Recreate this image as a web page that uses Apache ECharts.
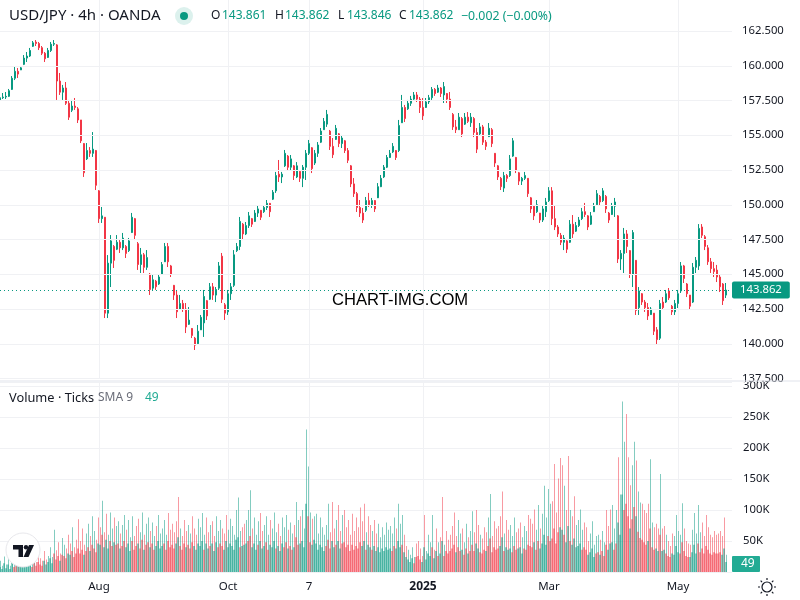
<!DOCTYPE html>
<html>
<head>
<meta charset="UTF-8">
<title>USD/JPY 4h</title>
<script src="https://cdn.jsdelivr.net/npm/echarts@6/dist/echarts.min.js"></script>
<style>
  html, body { margin: 0; padding: 0; background: #fff; }
  #main { width: 800px; height: 600px; }
</style>
</head>
<body>
<div id="main"></div>
<script>
var opens = [
157.5,157.7,157.75,157.8,158.3,159.1,159.6,159.7,160.1,160.55,
160.7,161.4,161.7,161.6,161.3,160.9,160.6,161.1,161.55,161.5,
158.9,158.1,158.4,157.3,156.8,157.1,156.9,156.1,154.4,153.3,
153.9,153.7,153.9,151.0,149.0,149.1,142.2,145.8,147.0,146.8,
147.3,146.9,147.0,146.7,148.0,149.0,147.2,145.7,146.4,145.5,
145.0,144.0,144.5,144.3,145.0,145.9,147.0,145.6,144.2,143.5,
142.5,142.9,142.5,141.4,141.1,140.4,140.0,141.0,141.5,143.1,
143.2,144.1,143.5,144.0,146.3,142.8,142.3,143.6,144.2,146.7,
147.0,148.6,147.9,148.5,149.0,148.8,149.4,149.6,149.5,149.8,
150.1,150.4,151.0,152.2,152.0,152.8,153.5,152.7,152.8,152.0,
152.4,151.9,152.7,153.7,154.1,153.0,153.7,154.5,155.4,155.8,
155.3,154.2,154.7,155.1,154.4,154.6,153.9,152.8,151.5,150.8,
149.8,149.4,149.6,150.3,150.0,150.3,150.5,151.3,152.0,152.7,
153.4,153.8,153.9,153.9,155.9,157.0,156.9,157.3,157.6,157.9,
157.6,157.0,157.0,157.4,157.7,158.3,158.1,158.4,157.9,158.0,
157.6,156.5,155.6,155.4,156.2,155.8,156.3,155.9,156.2,155.2,
155.1,155.6,154.5,154.9,155.4,153.7,152.8,151.9,151.2,152.1,
152.1,153.5,153.4,152.3,151.7,151.9,151.9,150.5,149.9,149.5,
149.4,148.9,149.5,150.3,151.0,149.0,148.4,147.8,147.3,147.4,
147.3,148.6,148.1,148.5,149.0,149.5,149.2,148.6,149.5,150.0,
150.6,150.3,150.6,149.4,149.3,149.9,149.2,146.1,146.5,147.9,
146.7,145.0,146.0,142.6,143.6,143.0,142.6,142.1,142.2,141.0,
140.4,143.0,143.0,143.8,142.7,142.3,142.9,143.8,145.6,144.3,
143.5,143.0,145.5,145.6,148.4,147.7,146.9,145.9,145.4,145.3,
144.8,144.3,143.5];
var closes = [
157.7,157.75,157.8,158.2,159.1,159.6,159.4,159.85,160.55,160.7,
161.1,161.65,161.6,161.3,160.9,160.5,161.1,161.55,161.6,158.9,
158.1,158.4,157.3,156.3,157.1,157.0,156.1,154.6,152.3,153.9,
153.7,154.0,151.4,149.0,149.2,142.2,145.8,147.4,146.0,147.3,
146.9,147.6,146.5,147.4,149.1,147.8,145.7,146.4,145.5,146.2,
143.9,144.6,144.1,144.8,145.7,147.0,145.9,145.0,143.5,142.3,
142.9,142.5,141.2,141.7,140.6,139.9,140.9,141.9,143.4,142.0,
144.1,143.5,143.9,145.6,143.2,142.2,143.6,144.1,146.4,147.0,
148.8,147.9,148.5,149.2,148.6,149.4,149.7,149.1,149.8,150.1,
149.5,150.9,152.1,152.0,152.2,153.7,152.7,153.3,152.1,152.8,
151.9,152.7,153.7,154.4,152.6,153.7,154.3,155.3,156.0,156.5,
154.2,153.6,155.5,154.4,154.8,153.9,153.2,151.5,150.8,149.8,
149.4,148.9,150.3,150.0,150.3,149.7,151.3,151.9,152.7,153.4,
153.7,154.2,153.4,155.7,157.0,156.2,157.3,157.6,157.9,157.6,
157.0,156.4,157.4,157.7,158.3,158.0,158.4,158.0,158.5,157.6,
157.0,155.6,155.4,156.3,155.1,156.3,156.0,156.3,155.2,154.0,
155.6,154.5,154.2,155.5,154.4,153.0,152.0,151.3,152.1,151.9,
153.3,154.6,152.5,151.7,151.9,152.1,150.8,149.7,149.2,150.0,
148.9,149.7,150.2,151.0,149.0,148.4,147.9,147.3,147.6,146.8,
148.6,147.9,148.5,148.9,149.5,149.3,148.4,149.2,149.9,150.8,
150.2,151.0,149.7,148.9,149.9,150.2,146.1,146.5,147.9,147.0,
145.0,148.0,142.4,143.8,143.0,142.6,142.0,142.5,140.9,140.3,
142.9,142.6,143.6,143.3,142.3,142.9,143.6,145.6,144.7,143.6,
142.7,145.5,146.0,148.3,147.8,147.0,145.9,145.4,145.2,144.8,
144.1,143.1,143.862];
var highs = [
157.90,158.04,158.11,158.33,159.26,159.91,159.84,159.98,160.77,160.99,
161.28,161.78,161.85,161.71,161.42,160.99,161.28,161.71,161.85,161.56,
159.48,158.62,158.83,157.54,157.54,157.68,157.03,156.10,154.44,154.44,
154.15,155.23,153.94,151.06,149.84,149.12,146.38,147.82,147.10,147.82,
147.46,147.97,147.10,147.61,149.41,149.05,147.32,146.89,146.53,146.74,
145.09,144.95,144.59,144.95,145.88,147.25,147.25,145.67,144.23,143.87,
143.51,143.15,142.93,142.64,141.13,140.49,141.35,142.07,143.87,143.15,
144.37,144.37,144.08,145.88,146.53,142.93,143.87,144.37,146.74,147.25,
149.12,148.69,148.76,149.48,149.05,149.62,149.98,149.62,149.98,150.34,
150.13,151.06,152.36,153.22,152.36,153.94,153.58,153.58,152.86,153.07,
152.50,152.86,153.94,154.66,154.15,153.94,154.51,155.52,156.24,156.82,
155.38,154.80,155.74,155.16,155.02,154.66,154.08,152.86,151.92,150.92,
150.34,149.77,150.56,150.85,150.49,150.34,151.56,152.14,152.86,153.58,
153.94,154.44,153.94,156.10,157.90,157.18,157.54,157.83,158.11,158.11,
157.75,157.68,157.68,157.90,158.47,158.40,158.62,158.47,158.83,158.04,
158.11,156.60,156.10,156.60,156.31,156.60,156.67,156.60,156.31,155.52,
155.88,155.74,154.66,155.88,155.52,153.72,152.86,152.00,152.36,152.21,
153.58,154.80,153.44,152.36,152.00,152.36,151.92,150.56,149.98,150.34,
149.41,149.98,150.49,151.27,151.27,149.98,148.54,147.97,147.82,147.46,
148.90,149.26,148.76,149.12,149.77,150.13,149.26,149.48,150.13,151.06,
150.70,151.20,150.70,149.48,150.13,150.49,149.26,146.74,148.33,148.18,
146.74,148.18,146.02,144.08,143.65,143.15,142.93,142.64,142.21,141.20,
143.15,143.36,143.87,144.01,142.79,143.15,143.87,145.88,145.67,144.37,
143.51,145.81,146.24,148.61,148.61,147.82,147.10,146.17,145.88,145.67,
144.95,144.37,144.37];
var lows = [
157.25,157.61,157.61,157.75,158.26,158.97,159.12,159.69,160.05,160.27,
160.63,161.35,161.42,161.13,160.77,160.27,160.56,160.99,161.42,157.54,
157.90,157.54,157.18,156.10,156.67,156.82,155.88,154.44,152.00,153.22,
153.44,153.44,151.06,148.69,148.69,141.85,141.85,144.08,145.45,146.74,
146.53,146.74,146.17,146.60,147.97,147.46,145.31,145.09,145.09,145.31,
143.51,143.87,143.87,144.23,144.95,145.88,145.52,144.80,143.15,141.85,
142.43,142.29,140.77,141.35,140.41,139.55,139.91,140.99,140.49,141.71,
143.15,143.15,143.00,143.87,142.93,141.71,142.07,143.15,144.08,146.60,
146.74,147.46,147.82,148.33,148.40,148.76,149.12,148.90,149.41,149.62,
149.12,150.34,150.85,151.64,151.56,152.72,152.50,152.50,151.78,151.92,
151.64,151.27,151.78,153.58,152.28,152.86,153.44,154.44,155.38,155.60,
153.94,153.36,154.66,154.15,154.08,153.72,153.00,151.27,150.56,149.48,
149.12,148.69,149.48,149.84,149.77,149.48,150.56,151.27,151.92,152.64,
153.36,153.72,153.22,153.79,155.88,155.95,156.82,157.11,157.54,157.39,
156.60,156.10,156.96,157.25,157.54,157.83,158.04,157.75,157.32,157.32,
156.82,155.38,155.16,155.38,154.87,155.74,155.88,155.60,154.87,153.72,
155.02,154.30,153.94,154.87,154.15,152.72,151.78,151.06,150.92,151.64,
152.00,153.44,152.28,151.42,151.42,151.78,150.56,149.41,148.90,149.41,
148.69,148.76,149.12,150.20,148.54,148.18,147.68,147.10,146.74,146.53,
147.25,147.61,148.04,148.40,148.90,149.12,148.18,148.54,149.48,149.98,
149.98,150.20,149.41,148.69,149.26,149.12,145.81,145.31,145.09,146.53,
144.73,144.08,142.07,142.07,142.79,142.29,141.71,142.07,140.63,139.91,
140.27,142.43,142.93,143.15,142.07,142.07,142.57,143.65,144.37,143.36,
142.43,142.93,145.09,145.31,147.61,146.74,145.67,145.09,144.80,144.44,
143.72,142.79,143.29];
// volume in thousands of ticks: tallest bar and the body of bars in each 2px slot
var volPeaks = [
18,10,25,12,22,10,28,14,20,16,30,12,24,18,28,20,14,26,16,30,22,18,34,20,26,
40,24,68,35,48,30,55,44,38,60,46,72,40,52,85,50,70,44,62,78,58,90,66,52,88,
72,115,64,94,60,96,70,88,74,82,62,76,92,68,84,56,90,58,74,86,64,96,60,78,88,
66,80,58,74,92,62,70,84,60,95,68,78,64,82,121,70,58,84,66,76,62,90,70,60,86,
72,95,60,88,64,76,82,58,90,66,84,70,62,92,68,86,74,60,100,120,66,72,78,84,100,
132,70,88,60,82,95,66,76,90,60,84,70,96,64,78,58,88,72,92,68,80,62,76,113,84,
90,100,70,230,170,96,86,90,94,62,88,72,60,76,110,64,113,70,84,108,66,92,100,72,84,
60,94,66,88,72,104,82,110,64,90,76,66,84,62,78,56,72,60,80,68,74,62,88,70,110,
78,92,60,42,36,28,40,24,46,50,38,26,92,34,60,48,92,36,70,48,56,121,44,66,52,
60,74,96,58,84,62,70,48,78,56,66,98,64,100,76,60,54,72,64,88,126,58,82,70,74,
90,130,62,84,68,76,58,88,64,70,80,56,74,66,92,86,78,101,68,108,70,94,139,88,134,
110,114,174,96,151,184,172,139,100,187,100,90,122,76,84,101,68,80,72,50,62,82,44,58,60,
52,66,48,100,74,101,108,70,100,185,125,275,210,255,185,140,172,210,180,130,112,110,100,95,110,
182,80,72,78,70,158,70,74,60,50,42,62,58,92,66,60,111,70,50,46,44,68,95,62,108,
64,80,58,92,72,60,56,66,60,62,66,58,88,28];
var volBodies = [
8,5,14,6,12,5,16,8,12,10,16,8,14,10,16,12,8,14,10,16,12,10,18,12,16,
22,14,30,20,26,18,28,26,22,30,28,34,24,30,38,30,36,28,34,40,34,44,38,32,46,
44,60,40,52,38,50,42,48,44,46,38,42,50,40,46,34,50,36,42,46,38,52,36,44,48,
40,46,36,42,50,38,42,46,36,50,40,44,38,46,56,42,36,46,40,44,38,48,42,36,46,
42,50,36,46,38,42,46,34,48,40,46,42,36,50,40,46,42,36,52,56,40,42,44,46,50,
58,40,46,36,44,50,38,42,48,36,44,40,50,38,42,34,46,40,48,38,42,36,40,56,44,
46,50,40,110,90,48,44,52,46,36,44,40,34,42,52,38,50,40,44,50,38,46,48,40,44,
34,44,36,42,38,48,42,50,36,44,40,36,42,34,40,32,38,34,40,36,38,34,42,38,50,
40,44,32,24,20,16,22,14,24,26,20,16,40,20,30,26,40,22,34,26,30,50,26,34,30,
34,38,44,32,40,34,36,28,38,30,34,44,34,46,38,32,30,36,34,42,54,32,40,36,38,
42,56,34,40,36,38,32,42,36,38,40,30,38,36,44,42,40,48,36,50,38,46,60,44,58,
50,54,70,46,64,72,68,60,48,74,50,44,54,40,42,46,36,40,36,28,32,38,24,30,32,
28,34,26,44,36,46,48,36,46,80,60,125,100,110,90,70,85,105,90,65,55,52,48,44,50,
70,40,36,38,34,60,34,36,30,26,24,30,28,42,32,30,48,34,26,24,24,32,44,30,46,
32,38,30,42,36,30,28,32,30,30,32,28,38,16];
// x axis labels and the candle they sit under
var tickLabels = ['Aug', 'Oct', '7', '2025', 'Mar', 'May'];
var tickIndexes = [33, 76, 103, 141, 183, 226];

var upColor = '#089981';
var downColor = '#f23645';
var textColor = '#131722';
var gridColor = '#f0f1f4';
var font = '"Noto Sans", sans-serif';

// the plot is 732px wide: 244 steps of 3px for candles, 366 steps of 2px for volume
var categories = [];
for (var i = 0; i < 245; i++) {
    var pos = tickIndexes.indexOf(i);
    categories.push(pos >= 0 ? tickLabels[pos] : 'c' + i);
}
var volCategories = [];
for (var i = 0; i < 367; i++) volCategories.push('v' + i);

var candles = [];
for (var i = 0; i < opens.length; i++) candles.push([opens[i], closes[i], lows[i], highs[i]]);

function isTick(index) { return tickIndexes.indexOf(index) >= 0; }
function volColor(alpha, shift) {
    return function (p) {
        var c = Math.min(Math.round(p.dataIndex * 2 / 3) + shift, opens.length - 1);
        return closes[c] >= opens[c] ? 'rgba(8,153,129,' + alpha + ')' : 'rgba(242,54,69,' + alpha + ')';
    };
}
function headText(x, y, str, color, size, family) {
    return { type: 'text', x: x, y: y, z: 20, style: {
        text: str, fill: color, font: (size || 12) + 'px ' + (family || font), textVerticalAlign: 'middle'
    } };
}

var sun = [
    { type: 'circle', z: 20, shape: { cx: 767, cy: 587, r: 5 }, style: { fill: '#fff', stroke: textColor, lineWidth: 1.2 } }
];
for (var a = 0; a < 8; a++) {
    var ang = a * Math.PI / 4;
    sun.push({ type: 'line', z: 20, shape: {
        x1: 767 + 7 * Math.cos(ang), y1: 587 + 7 * Math.sin(ang),
        x2: 767 + 9 * Math.cos(ang), y2: 587 + 9 * Math.sin(ang)
    }, style: { stroke: textColor, lineWidth: 1.2 } });
}

var myChart = echarts.init(document.getElementById('main'), null, { renderer: 'canvas' });
var option = {
    animation: false,
    backgroundColor: '#fff',
    grid: [
        { left: 0, width: 732, top: -3.75, height: 382.25, outerBoundsMode: 'none' },
        { left: 0, width: 732, top: 382, height: 190, outerBoundsMode: 'none' },
        { left: 0.5, width: 732, top: 382, height: 190, outerBoundsMode: 'none' }
    ],
    xAxis: [
        { type: 'category', gridIndex: 0, data: categories, boundaryGap: false,
          axisLine: { show: false }, axisTick: { show: false }, axisLabel: { show: false },
          splitLine: { show: true, interval: isTick, lineStyle: { color: gridColor, width: 1 } } },
        { type: 'category', gridIndex: 1, data: categories, boundaryGap: false,
          axisLine: { show: false }, axisTick: { show: false },
          axisLabel: { interval: isTick, hideOverlap: false, margin: 9, fontFamily: font, fontSize: 11.5, color: textColor,
              formatter: function (v) { return v === '2025' ? '{b|2025}' : v; },
              rich: { b: { fontFamily: font, fontSize: 12, fontWeight: 'bold', color: textColor } } },
          splitLine: { show: true, interval: isTick, lineStyle: { color: gridColor, width: 1 } } },
        { type: 'category', gridIndex: 1, data: volCategories, boundaryGap: false, show: false },
        { type: 'category', gridIndex: 2, data: volCategories, boundaryGap: false, show: false }
    ],
    yAxis: [
        { type: 'value', gridIndex: 0, position: 'right', min: 137.5, max: 165, interval: 2.5, z: 5,
          axisLine: { show: false }, axisTick: { show: false },
          axisLabel: { margin: 10, fontFamily: font, fontSize: 11.3, color: textColor,
              formatter: function (v) { return v.toFixed(3); } },
          splitLine: { lineStyle: { color: gridColor, width: 1 } } },
        { type: 'value', gridIndex: 1, position: 'right', min: 0, max: 306.45, interval: 50, z: 0,
          axisLine: { show: false }, axisTick: { show: false },
          axisLabel: { margin: 11, fontFamily: font, fontSize: 11.3, color: textColor,
              formatter: function (v) { return (v > 0 && v % 50 === 0) ? v + 'K' : ''; } },
          splitLine: { lineStyle: { color: gridColor, width: 1 } } },
        { type: 'value', gridIndex: 2, min: 0, max: 306.45, show: false, splitLine: { show: false } }
    ],
    series: [
        { type: 'candlestick', name: 'USD/JPY', xAxisIndex: 0, yAxisIndex: 0, data: candles, barWidth: 2,
          itemStyle: { color: upColor, color0: downColor, borderColor: upColor, borderColor0: downColor, borderWidth: 1 },
          markLine: { silent: true, symbol: 'none', animation: false,
              data: [{ yAxis: closes[closes.length - 1] }],
              lineStyle: { color: upColor, type: [1, 3], width: 1 },
              label: { position: 'end', distance: 0, formatter: '143.862', backgroundColor: upColor, color: '#fff',
                  fontFamily: font, fontSize: 11.3, padding: [3, 8, 3, 8], borderRadius: 2 } } },
        { type: 'bar', name: 'peaks', xAxisIndex: 3, yAxisIndex: 2, data: volPeaks, barWidth: 1,
          itemStyle: { color: volColor(0.5, 0) } },
        { type: 'bar', name: 'bodies', xAxisIndex: 2, yAxisIndex: 1, data: volBodies, barWidth: 2,
          itemStyle: { color: volColor(0.48, 1) } }
    ],
    graphic: [
        // top of the 300K label runs under the pane separator
        { type: 'rect', z: 3, shape: { x: 733, y: 370, width: 67, height: 12 }, style: { fill: '#fff' } },
        { type: 'line', z: 6, shape: { x1: 0, y1: 381, x2: 800, y2: 381 }, style: { stroke: '#e0e3eb', lineWidth: 1 } },
        headText(9, 16, 'USD/JPY · 4h · OANDA', textColor, 15),
        { type: 'circle', z: 19, shape: { cx: 184, cy: 16, r: 9 }, style: { fill: 'rgba(8,153,129,0.14)' } },
        { type: 'circle', z: 20, shape: { cx: 184, cy: 16, r: 4 }, style: { fill: upColor } },
        headText(211, 16, 'O', textColor), headText(222, 16, '143.861', upColor),
        headText(275, 16, 'H', textColor), headText(285, 16, '143.862', upColor),
        headText(338, 16, 'L', textColor), headText(347, 16, '143.846', upColor),
        headText(399, 16, 'C', textColor), headText(409, 16, '143.862', upColor),
        headText(461, 16, '−0.002 (−0.00%)', upColor, 12.3),
        headText(332, 300, 'CHART-IMG.COM', '#000', 16.6, '"Liberation Sans", Arial, sans-serif'),
        headText(9, 398, 'Volume · Ticks', textColor, 12.8),
        headText(98, 398, 'SMA 9', '#6a6d78', 12),
        headText(145, 398, '49', '#22ab94', 12),
        { type: 'rect', z: 19, shape: { x: 732, y: 556, width: 28, height: 16, r: 1 }, style: { fill: '#22ab94' } },
        headText(741, 564, '49', '#fff', 12),
        // TradingView badge
        { type: 'circle', z: 19, shape: { cx: 23, cy: 550, r: 17 }, style: { fill: '#fff', stroke: '#e8e8ec', lineWidth: 1 } },
        { type: 'polygon', z: 20, shape: { points: [[13, 545], [23, 545], [23, 557], [18.5, 557], [18.5, 549.5], [13, 549.5]] }, style: { fill: textColor } },
        { type: 'circle', z: 20, shape: { cx: 26, cy: 547.2, r: 2.2 }, style: { fill: textColor } },
        { type: 'polygon', z: 20, shape: { points: [[29, 545], [34, 545], [28.5, 557], [23.5, 557]] }, style: { fill: textColor } }
    ].concat(sun)
};
myChart.setOption(option);
</script>
</body>
</html>
